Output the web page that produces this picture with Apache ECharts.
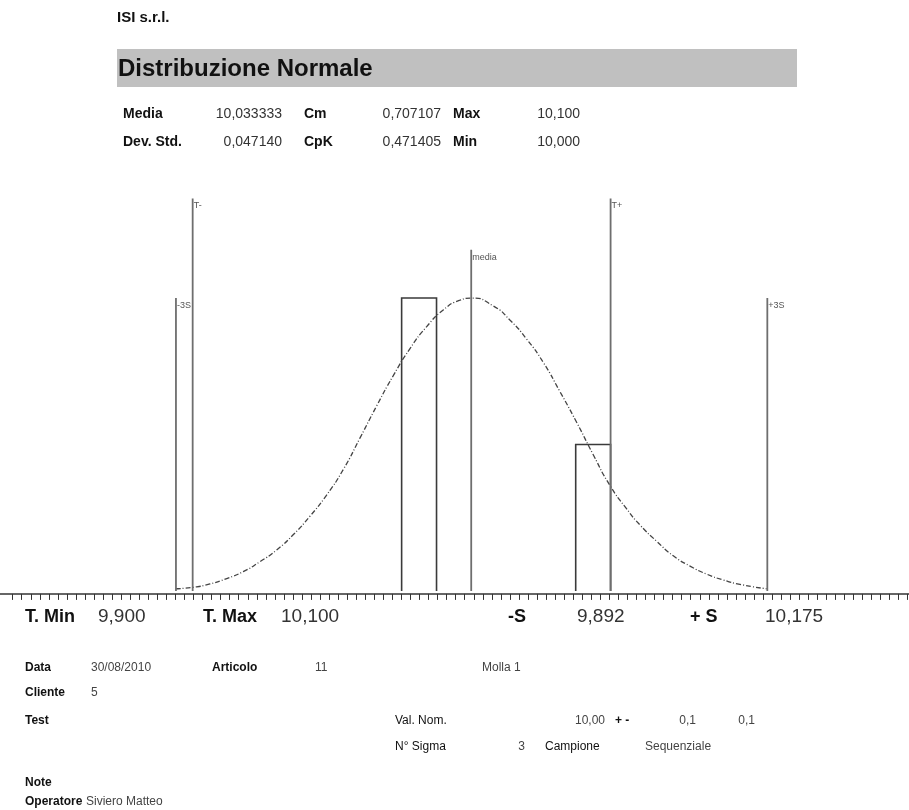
<!DOCTYPE html>
<html>
<head>
<meta charset="utf-8">
<title>Distribuzione Normale</title>
<script src="https://cdn.jsdelivr.net/npm/echarts@6/dist/echarts.min.js"></script>
<style>
  html, body { margin: 0; padding: 0; background: #fff; }
  #chart { width: 909px; height: 810px; }
</style>
</head>
<body>
<div id="chart"></div>
<script>
// istogramma: classi e frequenze
const binStart = [10.0, 10.0833];
const binEnd = [10.0167, 10.1];
const binCount = [2, 1];

// linee di riferimento (-3S, T-, media, T+, +3S)
const refNames = ["-3S", "T-", "media", "T+", "+3S"];
const refValues = [9.892, 9.9, 10.0333, 10.1, 10.175];
const refHeights = [2.0, 2.68, 2.33, 2.68, 2.0];

// curva normale
const curveX = [
  9.8919, 9.9003, 9.9083, 9.9163, 9.9242, 9.9322, 9.9402, 9.9482, 9.9561,
  9.9641, 9.9721, 9.9801, 9.9881, 9.996, 10.004, 10.012, 10.0199, 10.0279,
  10.0333, 10.0439, 10.0518, 10.0598, 10.0678, 10.0758, 10.0838, 10.0917,
  10.0997, 10.1077, 10.1141, 10.122, 10.13, 10.138, 10.146, 10.1539,
  10.1619, 10.1747,
];
const curveY = [
  0.015, 0.025, 0.048, 0.085, 0.132, 0.2, 0.28, 0.385, 0.51, 0.655, 0.83,
  1.045, 1.265, 1.47, 1.655, 1.805, 1.918, 1.985, 2.0, 1.945, 1.85, 1.72,
  1.56, 1.36, 1.15, 0.93, 0.72, 0.56, 0.45, 0.34, 0.24, 0.17,
  0.115, 0.075, 0.045, 0.015,
];

const FONT = "'Liberation Sans', Arial, sans-serif";

/** testo statico */
const txt = (x, y, text, size, bold, color, align) => ({
  type: "text",
  x: x,
  y: y,
  silent: true,
  style: {
    text: text,
    fontSize: size,
    fontFamily: FONT,
    fontWeight: bold ? "bold" : "normal",
    fill: color || "#111",
    align: align || "left",
    textAlign: align || "left",
    verticalAlign: "middle",
    textVerticalAlign: "middle",
  },
});

const chart = echarts.init(document.getElementById("chart"));

const option = {
  animation: false,
  backgroundColor: "#fff",
  grid: [
    // area del grafico
    { left: 0, right: 0, top: 195.5, bottom: 216.1 },
    // scala delle tacche
    { left: 12.7, right: 1.3, top: 195.5, bottom: 216.1 },
  ],
  xAxis: [
    {
      type: "value",
      gridIndex: 0,
      min: 9.8078,
      max: 10.2428,
      axisLine: { show: true, onZero: false, lineStyle: { color: "#333", width: 1.5 } },
      axisTick: { show: false },
      axisLabel: { show: false },
      splitLine: { show: false },
    },
    {
      type: "value",
      gridIndex: 1,
      min: 0,
      max: 99,
      interval: 1,
      axisLine: { show: false, onZero: false },
      axisTick: { show: true, length: 6, lineStyle: { color: "#333", width: 1 } },
      axisLabel: { show: false },
      splitLine: { show: false },
    },
  ],
  yAxis: [
    { type: "value", gridIndex: 0, min: -0.02, max: 2.7, show: false },
    { type: "value", gridIndex: 1, min: 0, max: 1, show: false },
  ],
  series: [
    {
      // istogramma
      type: "custom",
      xAxisIndex: 0,
      yAxisIndex: 0,
      data: binStart.map((s, i) => [s, binEnd[i], binCount[i]]),
      renderItem: (params, api) => {
        const a = api.coord([api.value(0), 0]);
        const b = api.coord([api.value(0), api.value(2)]);
        const c = api.coord([api.value(1), api.value(2)]);
        const d = api.coord([api.value(1), 0]);
        return {
          type: "polyline",
          shape: { points: [a, b, c, d] },
          style: { stroke: "#3a3a3a", lineWidth: 1.6, fill: null },
        };
      },
      z: 2,
    },
    {
      // curva
      type: "line",
      xAxisIndex: 0,
      yAxisIndex: 0,
      data: curveX.map((x, i) => [x, curveY[i]]),
      showSymbol: false,
      smooth: 0.6,
      lineStyle: { color: "#444", width: 1.3, type: [5, 2, 1, 2] },
      z: 3,
    },
    {
      // linee di riferimento
      type: "custom",
      xAxisIndex: 0,
      yAxisIndex: 0,
      data: refValues.map((v, i) => [v, refHeights[i]]),
      renderItem: (params, api) => {
        const p0 = api.coord([api.value(0), 0]);
        const p1 = api.coord([api.value(0), api.value(1)]);
        return {
          type: "group",
          children: [
            {
              type: "line",
              shape: { x1: p0[0], y1: p0[1], x2: p1[0], y2: p1[1] },
              style: { stroke: "#6e6e6e", lineWidth: 1.8 },
            },
            {
              type: "text",
              x: p1[0] + 1,
              y: p1[1] + 3,
              style: {
                text: refNames[params.dataIndex],
                fontSize: 9,
                fontFamily: FONT,
                fill: "#555",
                align: "left",
                verticalAlign: "top",
              },
            },
          ],
        };
      },
      z: 4,
    },
  ],
  graphic: [
    txt(117, 18, "ISI s.r.l.", 15, true, "#111"),
    {
      type: "rect",
      shape: { x: 117, y: 49, width: 680, height: 38 },
      style: { fill: "#c0c0c0" },
      silent: true,
      z: -1,
    },
    txt(118, 69, "Distribuzione Normale", 24, true, "#111"),

    // statistiche
    txt(123, 114, "Media", 14, true),
    txt(282, 114, "10,033333", 14, false, "#333", "right"),
    txt(304, 114, "Cm", 14, true),
    txt(441, 114, "0,707107", 14, false, "#333", "right"),
    txt(453, 114, "Max", 14, true),
    txt(580, 114, "10,100", 14, false, "#333", "right"),
    txt(123, 142.5, "Dev. Std.", 14, true),
    txt(282, 142.5, "0,047140", 14, false, "#333", "right"),
    txt(304, 142.5, "CpK", 14, true),
    txt(441, 142.5, "0,471405", 14, false, "#333", "right"),
    txt(453, 142.5, "Min", 14, true),
    txt(580, 142.5, "10,000", 14, false, "#333", "right"),

    // tolleranze
    txt(25, 617, "T. Min", 18, true),
    txt(98, 617, "9,900", 19, false, "#333"),
    txt(203, 617, "T. Max", 18, true),
    txt(281, 617, "10,100", 19, false, "#333"),
    txt(508, 617, "-S", 18, true),
    txt(577, 617, "9,892", 19, false, "#333"),
    txt(690, 617, "+ S", 18, true),
    txt(765, 617, "10,175", 19, false, "#333"),

    // dati di testata
    txt(25, 667.5, "Data", 12, true),
    txt(91, 667.5, "30/08/2010", 12, false, "#444"),
    txt(212, 667.5, "Articolo", 12, true),
    txt(315, 667.5, "11", 12, false, "#444"),
    txt(482, 667.5, "Molla 1", 12, false, "#444"),
    txt(25, 693, "Cliente", 12, true),
    txt(91, 693, "5", 12, false, "#444"),
    txt(25, 721, "Test", 12, true),
    txt(395, 721, "Val. Nom.", 12, false, "#111"),
    txt(605, 721, "10,00", 12, false, "#444", "right"),
    txt(615, 721, "+ -", 12, true),
    txt(696, 721, "0,1", 12, false, "#444", "right"),
    txt(755, 721, "0,1", 12, false, "#444", "right"),
    txt(395, 747, "N° Sigma", 12, false, "#111"),
    txt(525, 747, "3", 12, false, "#444", "right"),
    txt(545, 747, "Campione", 12, false, "#111"),
    txt(645, 747, "Sequenziale", 12, false, "#444"),
    txt(25, 783, "Note", 12, true),
    txt(25, 802, "Operatore", 12, true),
    txt(86, 802, "Siviero Matteo", 12, false, "#444"),
  ],
};

chart.setOption(option);
</script>
</body>
</html>
